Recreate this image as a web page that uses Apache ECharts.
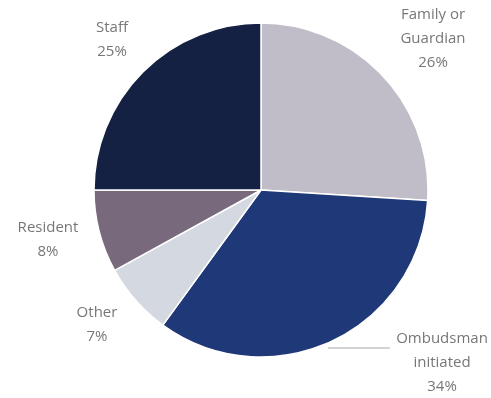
<!DOCTYPE html>
<html>
<head>
<meta charset="utf-8">
<script src="https://cdn.jsdelivr.net/npm/echarts@6/dist/echarts.min.js"></script>
<style>
  html, body { margin: 0; padding: 0; background: #ffffff; }
  #chart { width: 491px; height: 398px; }
</style>
</head>
<body>
<div id="chart"></div>
<script>
// Complaint sources, clockwise from 12 o'clock
const categories = ['Family or\nGuardian', 'Ombudsman\ninitiated', 'Other', 'Resident', 'Staff'];
const shares = [26, 34, 7, 8, 25];
const sliceColors = ['#c1bdc8', '#1f3877', '#d4d8e0', '#786a7c', '#152143'];

// Label anchor points (block centres) around the pie
const labelSpots = [
  [433, 39],
  [442, 363],
  [97, 325],
  [48, 240],
  [112, 40]
];

const chart = echarts.init(document.getElementById('chart'));
chart.setOption({
  animation: false,
  backgroundColor: '#ffffff',
  series: [{
    type: 'pie',
    center: [261, 190],
    radius: 167,
    startAngle: 90,
    clockwise: true,
    data: categories.map((name, i) => ({
      name: name,
      value: shares[i],
      itemStyle: { color: sliceColors[i] },
      labelLine: { show: i === 1 }
    })),
    itemStyle: { borderColor: '#ffffff', borderWidth: 1.5 },
    label: {
      show: true,
      position: 'outside',
      formatter: '{b}\n{c}%',
      fontFamily: 'Open Sans',
      fontSize: 15,
      lineHeight: 24,
      color: '#777777',
      align: 'center'
    },
    labelLine: {
      lineStyle: { color: '#a6a6a6', width: 1 },
      length: 10,
      length2: 10
    },
    labelLayout: function (params) {
      const p = labelSpots[params.dataIndex];
      const out = { x: p[0], y: p[1], align: 'center', verticalAlign: 'middle' };
      if (params.dataIndex === 1) {
        out.labelLinePoints = [[328, 348], [387, 348], [390, 348]];
      }
      return out;
    }
  }]
});
</script>
</body>
</html>
